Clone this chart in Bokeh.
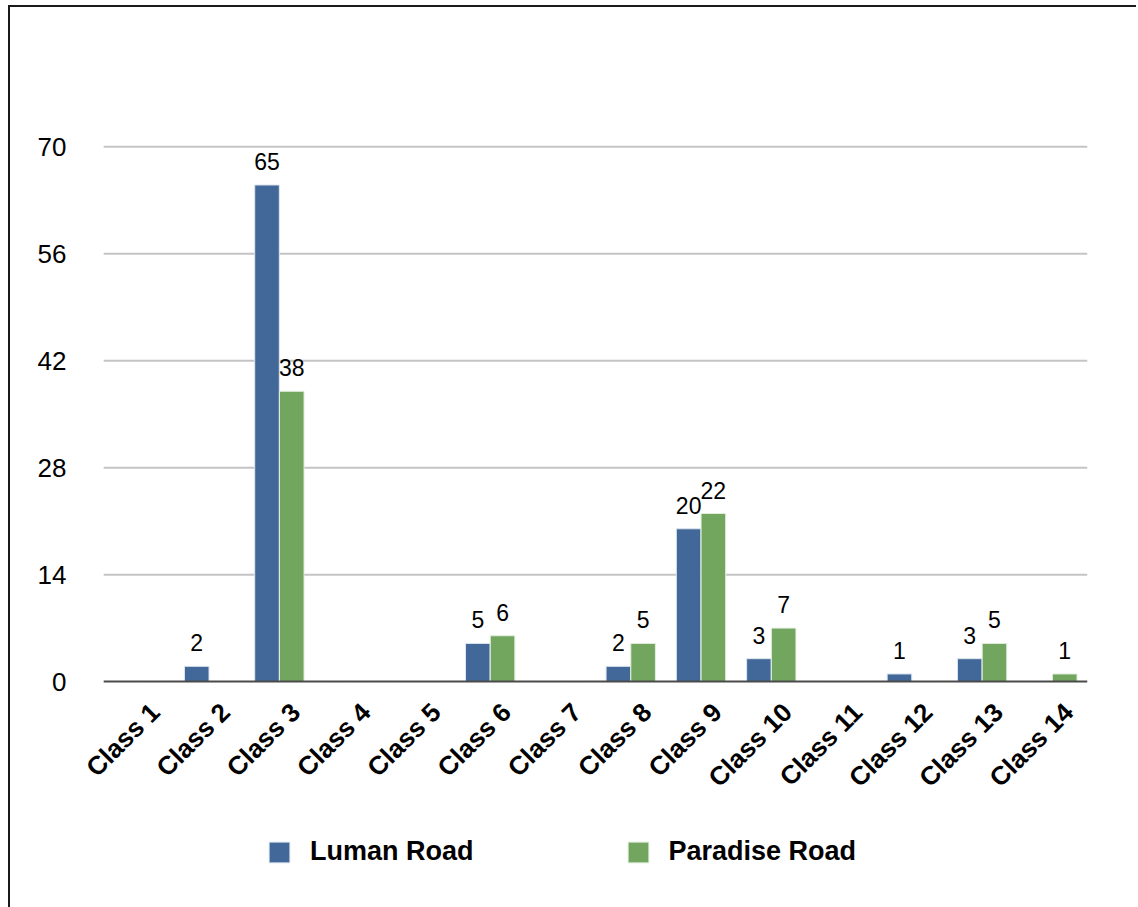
import math
from bokeh.plotting import figure
from bokeh.models import (ColumnDataSource, FixedTicker, Legend, LegendItem, Range1d)
from bokeh.transform import dodge
from bokeh.core.properties import value
from bokeh.embed import file_html
from bokeh.resources import INLINE

categories = ["Class 1", "Class 2", "Class 3", "Class 4", "Class 5", "Class 6", "Class 7",
              "Class 8", "Class 9", "Class 10", "Class 11", "Class 12", "Class 13", "Class 14"]
luman = [0, 2, 65, 0, 0, 5, 0, 2, 20, 3, 0, 1, 3, 0]
paradise = [0, 0, 38, 0, 0, 6, 0, 5, 22, 7, 0, 0, 5, 1]
series_names = ["Luman Road", "Paradise Road"]
y_ticks = [0, 14, 28, 42, 56, 70]

BLUE = "#42689A"
GREEN = "#72A65F"
FONT = "Liberation Sans"

n = len(categories)
idx = list(range(n))
zeros = [0] * n
src = ColumnDataSource(dict(i=idx, cat=categories, luman=luman, paradise=paradise, base=zeros))

def label_source(vals):
    xs = [i for i, v in zip(idx, vals) if v > 0]
    ys = [v for v in vals if v > 0]
    return ColumnDataSource(dict(i=xs, v=ys, t=[str(v) for v in ys]))

x_lo, x_hi = -0.5, n - 0.5
# frame extends below zero and left of the plot area so the rotated
# category labels and the legend sit inside it
p = figure(x_range=Range1d(x_lo - 0.33, x_hi), y_range=Range1d(-29.83, 70.3),
           width=1128, height=902, output_backend="svg", toolbar_location=None,
           x_axis_location=None,
           min_border_left=70, min_border_right=51, min_border_top=137, min_border_bottom=0)
p.margin = (5, 0, 0, 8)
p.styles = {"border-left": "2px solid #1a1a1a", "border-top": "2px solid #1a1a1a"}
p.outline_line_color = None
p.background_fill_color = "white"
p.xgrid.grid_line_color = None
p.ygrid.grid_line_color = None

# horizontal gridlines across the plot area
grid_src = ColumnDataSource(dict(y=y_ticks[1:], x0=[x_lo] * (len(y_ticks) - 1),
                                 x1=[x_hi] * (len(y_ticks) - 1)))
p.segment(x0="x0", x1="x1", y0="y", y1="y", source=grid_src,
          line_color="#c4c4c4", line_width=2)

off = 0.176
w = 0.35
r1 = p.vbar(x=dodge("i", -off), top="luman", bottom="base", width=w, source=src,
            fill_color=BLUE, line_color="#dfe6ef", line_width=1)
r2 = p.vbar(x=dodge("i", off), top="paradise", bottom="base", width=w, source=src,
            fill_color=GREEN, line_color="#e3eedf", line_width=1)

# x axis line
p.segment(x0=[x_lo], x1=[x_hi], y0=[0], y1=[0], line_color="#4a4a4a", line_width=2)

for vals, o in ((luman, -off), (paradise, off)):
    p.text(x=dodge("i", o), y="v", text="t", source=label_source(vals),
           text_align="center", text_baseline="bottom", y_offset=-15,
           text_font=value(FONT), text_font_size="23px", text_color="black")

# category labels (rotated 45 degrees)
p.text(x=dodge("i", 0.23), y="base", text="cat", source=src, angle=math.pi / 4,
       text_align="right", text_baseline="middle", y_offset=26,
       text_font=value(FONT), text_font_style="bold", text_font_size="26px",
       text_color="black")

p.yaxis.ticker = FixedTicker(ticks=y_ticks)
p.yaxis.axis_line_color = None
p.yaxis.major_tick_line_color = None
p.yaxis.minor_tick_line_color = None
p.yaxis.major_label_standoff = 8
p.yaxis.major_label_text_font = FONT
p.yaxis.major_label_text_font_size = "26px"
p.yaxis.major_label_text_color = "black"

legend = Legend(items=[LegendItem(label=series_names[0], renderers=[r1]),
                       LegendItem(label=series_names[1], renderers=[r2])],
                orientation="horizontal", location=(186, 42),
                glyph_width=26, glyph_height=26, label_standoff=18, spacing=151,
                label_text_font=FONT, label_text_font_style="bold",
                label_text_font_size="27px", label_text_color="black",
                border_line_color=None, background_fill_alpha=0, padding=0, margin=0)
p.add_layout(legend, "center")

open("out.html", "w").write(file_html(p, INLINE))
